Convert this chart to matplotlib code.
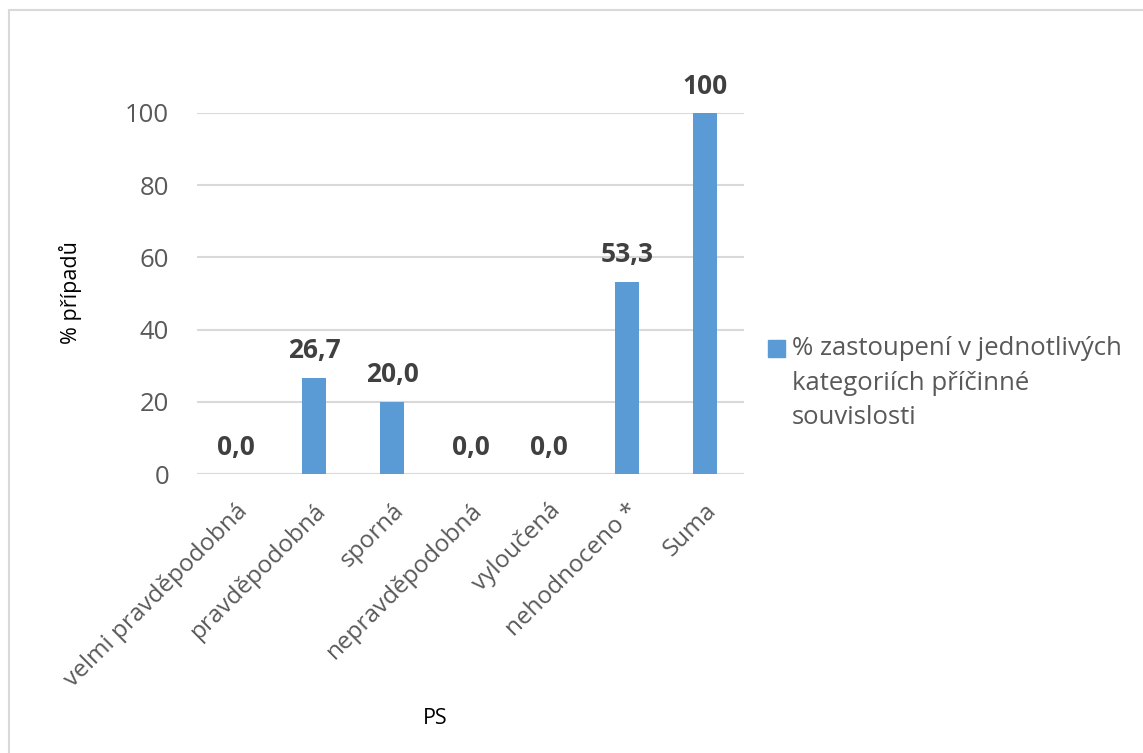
import matplotlib.pyplot as plt
from matplotlib.patches import Rectangle

categories = ['velmi pravděpodobná', 'pravděpodobná', 'sporná', 'nepravděpodobná',
              'vyloučená', 'nehodnoceno *', 'Suma']
values = [0.0, 26.7, 20.0, 0.0, 0.0, 53.3, 100]
value_labels = ['0,0', '26,7', '20,0', '0,0', '0,0', '53,3', '100']
series_name = '% zastoupení v jednotlivých\nkategoriích příčinné\nsouvislosti'
y_ticks = [0, 20, 40, 60, 80, 100]

plt.rcParams['font.family'] = ['Open Sans', 'DejaVu Sans']

BAR = '#5B9BD5'
GRID = '#D9D9D9'
TICK = '#595959'
LABEL = '#404040'

W, H = 1143, 753
fig = plt.figure(figsize=(W / 100, H / 100), dpi=100)
ax = fig.add_axes([197 / W, 1 - 474 / H, 547 / W, 361 / H])

x = list(range(len(categories)))
ax.bar(x, values, width=0.31, color=BAR, zorder=3)

for xi, v, lab in zip(x, values, value_labels):
    ax.annotate(lab, (xi, v), xytext=(0, 14), textcoords='offset points',
                ha='center', va='baseline', fontsize=19, fontweight='bold',
                color=LABEL)

ax.set_xlim(-0.5, len(categories) - 0.5)
ax.set_ylim(0, 100)
ax.set_yticks(y_ticks)
ax.set_yticklabels([str(t) for t in y_ticks], fontsize=18.5, color=TICK)
ax.set_xticks(x)
ax.set_xticklabels(categories, rotation=45, ha='right', rotation_mode='anchor',
                   fontsize=17.5, color=TICK)
ax.tick_params(axis='both', length=0)
ax.tick_params(axis='y', pad=20)
ax.tick_params(axis='x', pad=18)
ax.grid(axis='y', color=GRID, linewidth=1.5, zorder=0)
for s in ax.spines.values():
    s.set_visible(False)
ax.axhline(0, color=GRID, linewidth=1.5, zorder=2)

fig.text(70 / W, 1 - 293 / H, '% případů', rotation=90, ha='center', va='center',
         fontsize=15.5, color='black')
fig.text(435 / W, 1 - 718 / H, 'PS', ha='center', va='center',
         fontsize=15.5, color='black')

# legend: square marker plus wrapped series name
fig.patches.append(Rectangle((768 / W, 1 - 357 / H), 17 / W, 17 / H,
                             transform=fig.transFigure, color=BAR))
fig.text(792 / W, 1 - 336 / H, series_name, ha='left', va='top',
         fontsize=18.5, color=TICK, linespacing=1.5)

# outer chart frame
fig.patches.append(Rectangle((8.5 / W, -0.01), 1.02, 1 - 9.5 / H + 0.01,
                             transform=fig.transFigure, fill=False,
                             edgecolor=GRID, linewidth=1.5))

fig.savefig('out.png', dpi=100)
